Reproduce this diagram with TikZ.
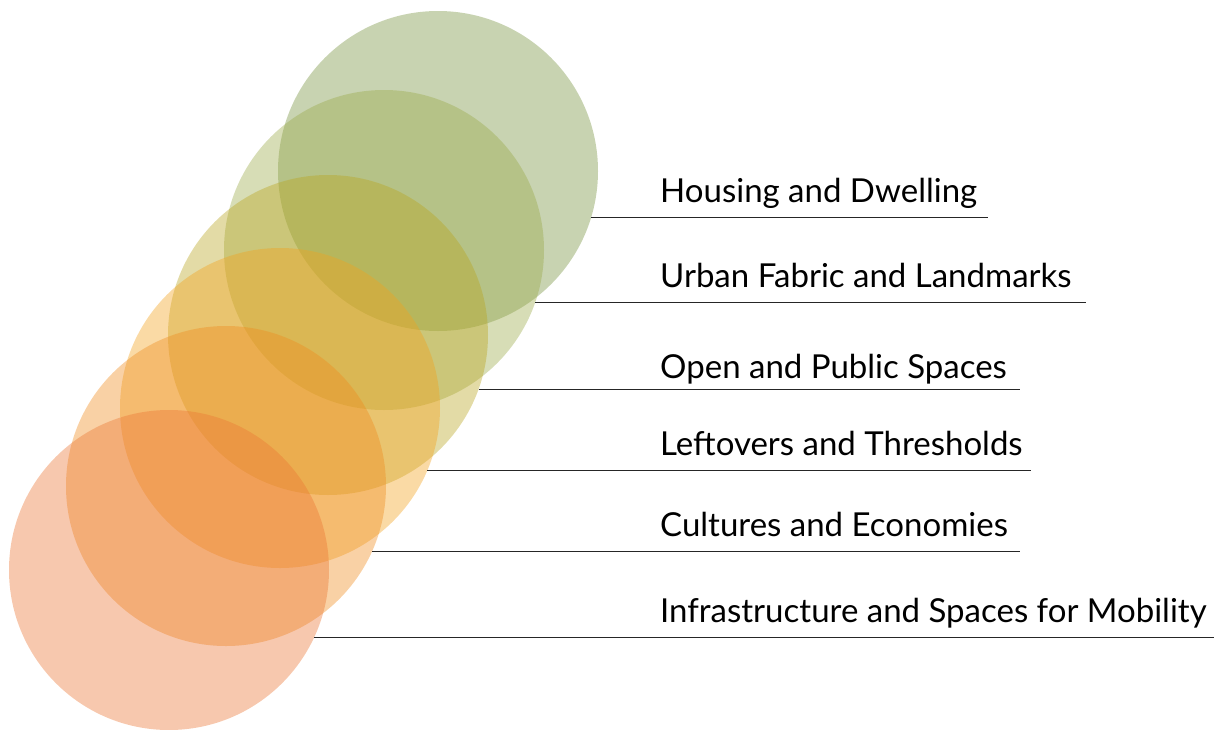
\documentclass[tikz,border=0pt]{standalone}
\usepackage{fontspec}
\setmainfont{Lato}
\usepackage{tikz}

\definecolor{housingcol}{HTML}{75913C}
\definecolor{fabriccol}{HTML}{9BAA48}
\definecolor{opencol}{HTML}{B9A520}
\definecolor{leftovercol}{HTML}{F2A21E}
\definecolor{culturecol}{HTML}{F08C1E}
\definecolor{mobilitycol}{HTML}{EB7634}

\begin{document}
\begin{tikzpicture}[x=1pt, y=-1pt,
bubble/.style={circle, draw=none, fill opacity=0.4, inner sep=0pt, minimum size=320pt},
topic/.style={anchor=base west, inner sep=0pt, font=\fontsize{33}{39}\selectfont},
rule/.style={line width=1.2pt, black!85},
]
\useasboundingbox (0,0) rectangle (1224,729);
%Nodes
\node[bubble, fill=housingcol]    (housing)   at (438,171) {};
\node[bubble, fill=fabriccol]     (fabric)    at (384,250) {};
\node[bubble, fill=opencol]       (open)      at (328,335) {};
\node[bubble, fill=leftovercol]   (leftover)  at (280,408) {};
\node[bubble, fill=culturecol]    (culture)   at (226,486) {};
\node[bubble, fill=mobilitycol]   (mobility)  at (169,570) {};

\node[topic] (housing-txt)  at (660,202) {Housing and Dwelling};
\node[topic] (fabric-txt)   at (660,287) {Urban Fabric and Landmarks};
\node[topic] (open-txt)     at (660,378) {Open and Public Spaces};
\node[topic] (leftover-txt) at (660,455) {Leftovers and Thresholds};
\node[topic] (culture-txt)  at (660,536) {Cultures and Economies};
\node[topic] (mobility-txt) at (660,622) {Infrastructure and Spaces for Mobility};

\coordinate (housing-end)  at (988,218);
\coordinate (fabric-end)   at (1086,303);
\coordinate (open-end)     at (1020,390);
\coordinate (leftover-end) at (1031,471);
\coordinate (culture-end)  at (1020,553);
\coordinate (mobility-end) at (1214,638);

%Lines
\draw[rule] (housing.-17.5)  -- (housing.-17.5 -| housing-end);
\draw[rule] (fabric.-19.3)   -- (fabric.-19.3 -| fabric-end);
\draw[rule] (open.-20.1)     -- (open.-20.1 -| open-end);
\draw[rule] (leftover.-23.2) -- (leftover.-23.2 -| leftover-end);
\draw[rule] (culture.-24.7)  -- (culture.-24.7 -| culture-end);
\draw[rule] (mobility.-25.1) -- (mobility.-25.1 -| mobility-end);
\end{tikzpicture}
\end{document}
